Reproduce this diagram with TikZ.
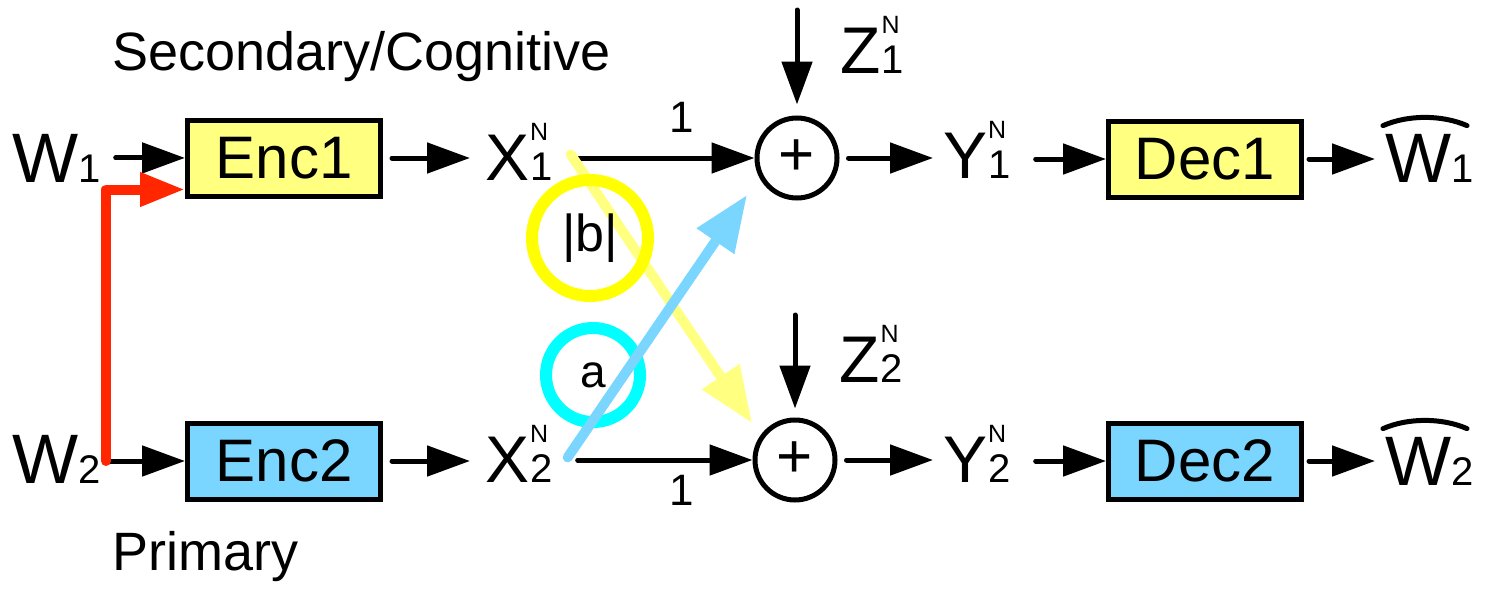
\documentclass[tikz,border=0pt]{standalone}
\usepackage{fontspec}
\setmainfont{Liberation Sans}
\usetikzlibrary{arrows.meta,calc}
\definecolor{fillyellow}{HTML}{FFFF80}
\definecolor{fillblue}{HTML}{7AD5FF}
\definecolor{ringyellow}{HTML}{FFFF00}
\definecolor{ringcyan}{HTML}{00FFFF}
\definecolor{sidered}{HTML}{FF2600}
\newcommand{\fs}[1]{\fontsize{#1}{#1}\selectfont}
\newcommand{\sig}[3]{{\fs{66}#1}\kern1pt{\fs{40}\rlap{\raisebox{40pt}{\fs{25}#3}}#2}}
\newcommand{\msg}[2]{{\fs{70}#1}{\fs{40}#2}}
\begin{document}
\begin{tikzpicture}[x=1pt,y=-1pt,
  lab/.style={anchor=base west,inner sep=0pt},
  blk/.style={draw,line width=5pt,minimum width=193pt,minimum height=76pt,inner sep=0pt,font=\fs{60}},
  adder/.style={draw,circle,line width=5pt,minimum size=80pt,inner sep=0pt,font=\fs{62}},
  ring/.style={draw,circle,line width=12pt,inner sep=0pt},
  arr/.style={-{Triangle[length=43pt,width=30pt]},line width=5pt,line cap=round},
  fatarr/.style={-{Triangle[length=56pt,width=43pt]},line width=10pt,line cap=round},
  hatline/.style={line width=5pt,line cap=round}]
\useasboundingbox (0,0) rectangle (1487,589);
% captions
\node[lab,font=\fs{54}] (sec) at (112,70) {Secondary/Cognitive};
\node[lab,font=\fs{54}] (prim) at (112,570) {Primary};
% inputs and encoders
\node[lab] (w1) at (12,182) {\msg{W}{1}};
\node[lab] (w2) at (12,483) {\msg{W}{2}};
\node[blk,fill=fillyellow] (enc1) at (284,158) {Enc1};
\node[blk,fill=fillblue] (enc2) at (284,461) {Enc2};
\node[lab] (x1) at (485,180) {\sig{X}{1}{N}};
\node[lab] (x2) at (485,482) {\sig{X}{2}{N}};
% channel
\node[adder] (add1) at (797,158) {+};
\node[adder] (add2) at (795,460) {+};
\node[lab] (z1) at (840,73) {\sig{Z}{1}{N}};
\node[lab] (z2) at (839,382) {\sig{Z}{2}{N}};
\node[font=\fs{44}] (g1) at (682,117) {1};
\node[font=\fs{44}] (g2) at (682,490) {1};
% outputs and decoders
\node[lab] (y1) at (943,178) {\sig{Y}{1}{N}};
\node[lab] (y2) at (943,482) {\sig{Y}{2}{N}};
\node[blk,fill=fillyellow] (dec1) at (1205,159) {Dec1};
\node[blk,fill=fillblue] (dec2) at (1205,461) {Dec2};
\node[lab] (what1) at (1385,182) {\msg{W}{1}};
\node[lab] (what2) at (1385,485) {\msg{W}{2}};
\draw[hatline] ($(what1.north west)+(-2,-8)$) .. controls +(25,-11) and +(-25,-11) .. ($(what1.north west)+(82,-8)$);
\draw[hatline] ($(what2.north west)+(-2,-8)$) .. controls +(25,-11) and +(-25,-11) .. ($(what2.north west)+(82,-8)$);
% connectors
\coordinate (fork) at (106,461);
\coordinate (z1src) at (797,10);
\coordinate (z2src) at (795,315);
\draw[arr,shorten <=15pt] (w1.east) -- (w1.east -| enc1.west);
\draw[arr] (fork) -- (enc2.west);
\draw[-{Triangle[length=45pt,width=32pt]},line width=10pt,line cap=round,line join=round,draw=sidered] (fork) |- ([yshift=9pt]enc1.south west);
\foreach \i in {1,2} {
  \draw[arr,shorten <=9pt,shorten >=15pt] (enc\i.east) -- (enc\i.east -| x\i.west);
  \draw[arr,shorten <=25pt] (add\i.west -| x\i.east) -- (add\i.west);
  \draw[arr,shorten <=9pt,shorten >=10pt] (add\i.east) -- (add\i.east -| y\i.west);
  \draw[arr,shorten <=25pt] (dec\i.west -| y\i.east) -- (dec\i.west);
  \draw[arr,shorten <=5pt,shorten >=10pt] (dec\i.east) -- (dec\i.east -| what\i.west);
}
\draw[arr,shorten >=11pt] (z1src) -- (add1.north);
\draw[arr,shorten >=9pt] (z2src) -- (add2.north);
% cross gains
\draw[fatarr,draw=fillyellow] ([xshift=18pt,yshift=-3pt]x1.east) -- ([shift={(-43,-37)}]add2.center);
\node[ring,draw=ringyellow,minimum size=116pt,font=\fs{52}] (bgain) at (590,238) {|b|};
\node[ring,draw=ringcyan,minimum size=94pt,font=\fs{46}] (again) at (593,375) {a};
\draw[fatarr,draw=fillblue] ([xshift=15pt,yshift=-4pt]x2.east) -- ([shift={(-50,37)}]add1.center);
\end{tikzpicture}
\end{document}
